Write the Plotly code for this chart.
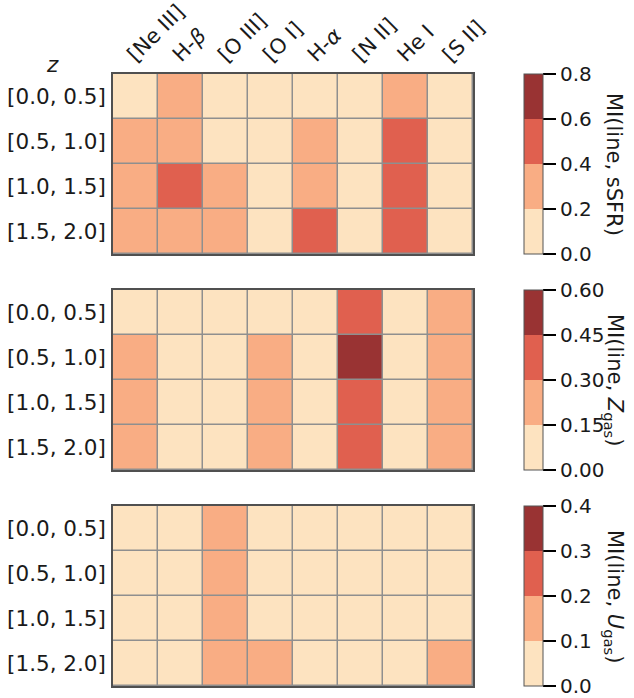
import plotly.graph_objects as go

# Emission lines (columns) and redshift bins (rows)
lines = ["[Ne III]", "H-<i>β</i>", "[O III]", "[O I]", "H-<i>α</i>", "[N II]", "He I", "[S II]"]
z_bins = ["[0.0, 0.5]", "[0.5, 1.0]", "[1.0, 1.5]", "[1.5, 2.0]"]

# Mutual information between each line and a galaxy property, per redshift bin
mi_ssfr = [
    [0.12, 0.28, 0.08, 0.06, 0.15, 0.05, 0.31, 0.07],
    [0.26, 0.30, 0.11, 0.07, 0.33, 0.06, 0.52, 0.08],
    [0.29, 0.47, 0.24, 0.09, 0.36, 0.07, 0.55, 0.10],
    [0.31, 0.34, 0.27, 0.10, 0.49, 0.08, 0.53, 0.12],
]
mi_zgas = [
    [0.08, 0.05, 0.04, 0.10, 0.06, 0.39, 0.07, 0.19],
    [0.20, 0.07, 0.06, 0.22, 0.08, 0.52, 0.09, 0.24],
    [0.21, 0.08, 0.07, 0.23, 0.09, 0.43, 0.10, 0.25],
    [0.22, 0.09, 0.08, 0.24, 0.10, 0.41, 0.11, 0.26],
]
mi_ugas = [
    [0.04, 0.05, 0.14, 0.06, 0.03, 0.04, 0.05, 0.06],
    [0.05, 0.06, 0.15, 0.07, 0.04, 0.05, 0.06, 0.07],
    [0.05, 0.06, 0.16, 0.08, 0.05, 0.05, 0.06, 0.08],
    [0.06, 0.07, 0.17, 0.12, 0.05, 0.06, 0.07, 0.13],
]

panels = [
    (mi_ssfr, 0.8, [0.0, 0.2, 0.4, 0.6, 0.8], ".1f", "MI(line, sSFR)"),
    (mi_zgas, 0.6, [0.0, 0.15, 0.30, 0.45, 0.60], ".2f", "MI(line, <i>Z</i><sub>gas</sub>)"),
    (mi_ugas, 0.4, [0.0, 0.1, 0.2, 0.3, 0.4], ".1f", "MI(line, <i>U</i><sub>gas</sub>)"),
]

# Four-step discrete palette
palette = ["#fde3c0", "#f9ad84", "#e0604f", "#993333"]
cscale = []
for i, c in enumerate(palette):
    cscale += [[i / 4, c], [(i + 1) / 4, c]]

W, H = 634, 698
x0, x1 = 113, 473           # heatmap left/right (px)
tops = [74, 290, 506]       # panel tops (px)
ph = 180                    # panel height (px)
cb_x = 524                  # colorbar left (px)
FONT = "DejaVu Sans"
FS = 20                     # colorbar tick labels
FS_LBL = 21.5               # row labels
FS_TOP = 21                 # rotated column labels
FS_TTL = 21                 # colorbar titles
TXT = "#1a1a1a"
ncol, nrow = len(lines), len(z_bins)

fig = go.Figure()
annotations = []
for k, (vals, zmax, ticks, fmt, title) in enumerate(panels):
    n = k + 1
    xa = "x" if n == 1 else f"x{n}"
    ya = "y" if n == 1 else f"y{n}"
    ytop = 1 - tops[k] / H
    ybot = 1 - (tops[k] + ph) / H
    fig.add_trace(go.Heatmap(
        z=vals, x=lines, y=z_bins, xaxis=xa, yaxis=ya,
        zmin=0, zmax=zmax, colorscale=cscale,
        xgap=1.5, ygap=1.5, hoverongaps=False,
        colorbar=dict(
            x=cb_x / W, xanchor="left", xpad=0, ypad=0,
            y=ytop, yanchor="top", len=ph / H, lenmode="fraction",
            thickness=19, thicknessmode="pixels",
            outlinecolor="#555555", outlinewidth=1,
            tickvals=ticks, tickformat=fmt,
            ticks="outside", ticklen=13, tickwidth=2, tickcolor="black",
            tickfont=dict(family=FONT, size=FS, color=TXT),
        ),
    ))
    axx = dict(
        domain=[x0 / W, x1 / W], anchor=ya, automargin=False,
        range=[-0.5, ncol - 0.5], autorange=False,
        showgrid=False, zeroline=False,
        showline=True, mirror=True, linecolor="#505050", linewidth=1.5,
        ticks="", showticklabels=False,
    )
    axy = dict(
        domain=[ybot, ytop], anchor=xa, automargin=False,
        range=[nrow - 0.5, -0.5], autorange=False,
        showgrid=False, zeroline=False,
        showline=True, mirror=True, linecolor="#505050", linewidth=1.5,
        ticks="", ticklabelstandoff=1,
        tickfont=dict(family=FONT, size=FS_LBL, color=TXT),
    )
    key = "" if n == 1 else str(n)
    fig.update_layout(**{f"xaxis{key}": axx, f"yaxis{key}": axy})
    annotations.append(dict(
        text=title, textangle=90, x=614 / W, y=(ytop + ybot) / 2,
        xref="paper", yref="paper", xanchor="center", yanchor="middle",
        showarrow=False, font=dict(family=FONT, size=FS_TTL, color=TXT),
    ))

# Rotated line names above the top panel
for i, name in enumerate(lines):
    annotations.append(dict(
        text=name, textangle=-45, x=i, xref="x", xshift=-14,
        y=1 - 68 / H, yref="paper", xanchor="left", yanchor="bottom",
        showarrow=False, borderpad=0,
        font=dict(family=FONT, size=FS_TOP, color=TXT),
    ))

annotations.append(dict(
    text="<i>z</i>", x=52 / W, y=1 - 64 / H, xref="paper", yref="paper",
    xanchor="center", yanchor="middle", showarrow=False,
    font=dict(family=FONT, size=FS_LBL, color=TXT),
))

fig.update_layout(
    width=W, height=H, margin=dict(l=0, r=0, t=0, b=0, autoexpand=False),
    paper_bgcolor="white", plot_bgcolor="#8f8f8f",
    annotations=annotations, showlegend=False,
)

fig.write_html("out.html")
